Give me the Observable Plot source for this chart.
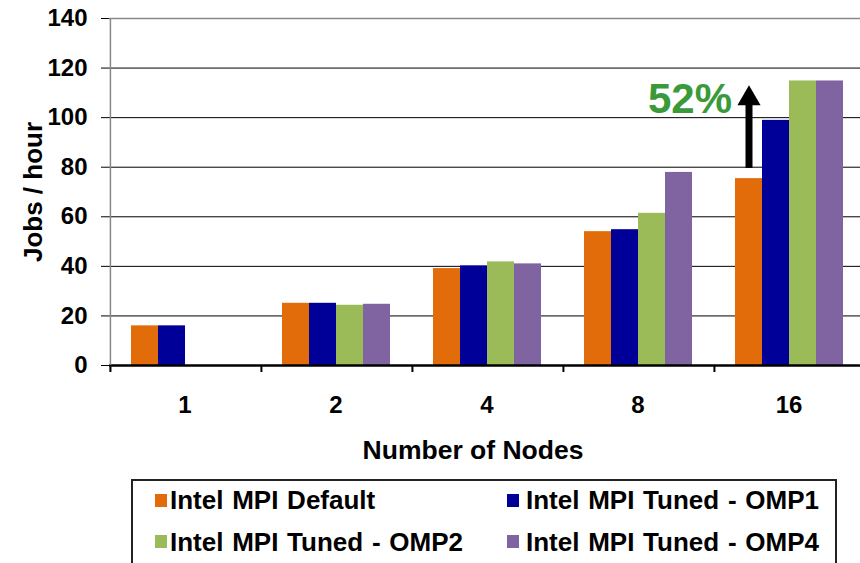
<!DOCTYPE html>
<html>
<head>
<meta charset="utf-8">
<script src="https://cdn.jsdelivr.net/npm/d3@7"></script>
<script src="https://cdn.jsdelivr.net/npm/@observablehq/plot@0.6"></script>
<style>
  html, body { margin: 0; padding: 0; background: #fff; overflow: hidden; }
  #wrap { position: relative; width: 860px; height: 563px; font-family: "Liberation Sans", Arial, sans-serif; }
  #legend { position: absolute; left: 131px; top: 479px; width: 706px; height: 120px; border: 2px solid #222; box-sizing: border-box; }
  .sw { position: absolute; width: 12px; height: 13px; }
  .lt { position: absolute; font-size: 26px; font-weight: bold; line-height: 26px; white-space: nowrap; color: #000; word-spacing: 1.5px; }
</style>
</head>
<body>
<div id="wrap"><div id="chart"></div><div id="legend"></div></div>
<script>
// ---- data ----
const nodes = ["1", "2", "4", "8", "16"];
const series = ["Intel MPI Default", "Intel MPI Tuned - OMP1", "Intel MPI Tuned - OMP2", "Intel MPI Tuned - OMP4"];
const mpiDefault = [16, 25.1, 39.1, 54, 75.4];
const tunedOmp1 = [16, 25.1, 40.2, 54.8, 98.9];
const tunedOmp2 = [null, 24.3, 41.8, 61.4, 114.8];
const tunedOmp4 = [null, 24.7, 41.0, 77.9, 114.8];
const colors = ["#e36c0a", "#000099", "#9bbb59", "#8064a2"];
const yTicks = [0, 20, 40, 60, 80, 100, 120, 140];
const gridValues = [20, 40, 60, 80, 100, 120];
const annotationText = ["52%"];
const arrowFrom = 79.5;   // jobs/hour, arrow base
const arrowHead = 107.7;  // jobs/hour, arrow head centre
const textY = 101.7;      // jobs/hour, baseline of "52%"

// ---- table ----
const seriesValues = [mpiDefault, tunedOmp1, tunedOmp2, tunedOmp4];
const rows = [];
series.forEach((s, si) => nodes.forEach((n, ni) => {
  const v = seriesValues[si][ni];
  if (v != null) rows.push({nodes: n, series: s, value: v});
}));

// ---- layout ----
const width = 860, height = 470;
const marginLeft = 108, marginRight = -5.5, marginTop = 18, marginBottom = 105;
const padOuter = 0.76;
const facetW = (width - marginLeft - marginRight) / nodes.length;
const bandStep = facetW / (series.length + 2 * padOuter);
const edgeDx = -(padOuter * bandStep + bandStep / 2);

const firstOfFacet = nodes.map(n => ({nodes: n, series: series[0]}));
const leftFacet = [{nodes: nodes[0], series: series[0]}];
const lastFacet = [{nodes: nodes[nodes.length - 1], series: series[0]}];

const chart = Plot.plot({
  width, height, marginLeft, marginRight, marginTop, marginBottom,
  style: {fontFamily: "'Liberation Sans', Arial, sans-serif", fontSize: "24px", fontWeight: "bold", background: "#fff", color: "#000"},
  fx: {domain: nodes, padding: 0, axis: "bottom", tickSize: 0, tickPadding: 30, label: null},
  x: {domain: series, paddingInner: 0, paddingOuter: padOuter, axis: null},
  y: {domain: [0, 140]},
  color: {domain: series, range: colors},
  marks: [
    Plot.axisY({ticks: yTicks, tickSize: 8, tickPadding: 14, label: null, fontSize: 24}),
    Plot.axisY({ticks: [], tickSize: 0, label: "Jobs / hour", labelAnchor: "center", labelOffset: 86, labelArrow: "none", fontSize: 26}),
    Plot.ruleY(gridValues, {stroke: "#000", strokeWidth: 1}),
    Plot.ruleY([140], {stroke: "#888", strokeWidth: 1.5}),
    Plot.barY(rows, {fx: "nodes", x: "series", y: "value", fill: "series"}),
    Plot.ruleY([0], {stroke: "#000", strokeWidth: 2.5}),
    Plot.ruleX(leftFacet, {fx: "nodes", x: "series", y1: 140, y2: 0, insetBottom: -6, dx: edgeDx, stroke: "#888", strokeWidth: 1.5}),
    Plot.ruleX(firstOfFacet, {fx: "nodes", x: "series", y1: 0, y2: 0, insetBottom: -7, dx: edgeDx, stroke: "#000", strokeWidth: 2}),
    Plot.ruleX(lastFacet, {fx: "nodes", x: "series", y1: arrowFrom, y2: arrowHead - 2, stroke: "#000", strokeWidth: 7}),
    Plot.dot(lastFacet, {fx: "nodes", x: "series", y: arrowHead, symbol: "triangle", r: 8.6, fill: "#000", stroke: "none"}),
    Plot.text(lastFacet, {fx: "nodes", x: "series", y: textY, text: () => annotationText[0], textAnchor: "end", lineAnchor: "bottom", dx: -17, fontSize: 42, fontWeight: "bold", fill: "#3a9a3a"}),
    Plot.text([{nodes: "4"}], {fx: "nodes", text: () => "Number of Nodes", frameAnchor: "bottom", lineAnchor: "bottom", dy: 93, dx: -14, fontSize: 26.5, fontWeight: "bold", fill: "#000"})
  ]
});
document.getElementById("chart").appendChild(chart);

// ---- legend ----
const legend = document.getElementById("legend");
const legendPos = [
  {sx: 155, tx: 170, sy: 494, ty: 487},
  {sx: 507, tx: 526, sy: 494, ty: 487},
  {sx: 155, tx: 170, sy: 535, ty: 529},
  {sx: 507, tx: 526, sy: 535, ty: 529}
];
series.forEach((s, i) => {
  const p = legendPos[i];
  const sw = document.createElement("div");
  sw.className = "sw";
  sw.style.left = (p.sx - 131 - 2) + "px";
  sw.style.top = (p.sy - 479 - 2) + "px";
  sw.style.background = colors[i];
  legend.appendChild(sw);
  const t = document.createElement("div");
  t.className = "lt";
  t.style.left = (p.tx - 131 - 2) + "px";
  t.style.top = (p.ty - 479 - 2) + "px";
  t.textContent = s;
  legend.appendChild(t);
});
</script>
</body>
</html>
